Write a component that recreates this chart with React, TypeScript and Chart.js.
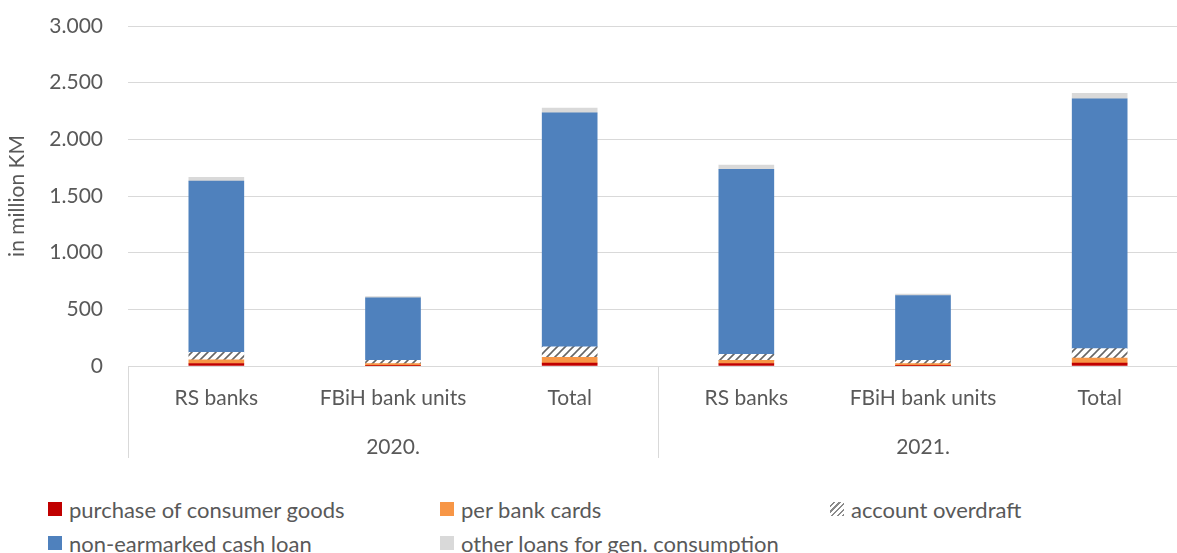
import React, { useEffect, useRef } from "react";
import { Chart, registerables } from "chart.js";

Chart.register(...registerables);

const categories = ["RS banks", "FBiH bank units", "Total", "RS banks", "FBiH bank units", "Total"];
const groups = ["2020.", "2021."];
const purchaseGoods = [22, 3, 25, 22, 3, 25];
const bankCards = [33, 18, 51, 27, 18, 45];
const overdraft = [65, 28, 93, 53, 30, 83];
const cashLoan = [1511, 553, 2064, 1634, 571, 2205];
const otherLoans = [33, 10, 43, 36, 12, 48];
const yTicks = [0, 500, 1000, 1500, 2000, 2500, 3000];

const seriesNames = [
  "purchase of consumer goods",
  "per bank cards",
  "account overdraft",
  "non-earmarked cash loan",
  "other loans for gen. consumption",
];

const FONT = "Lato";
const FS = 21;
const LFS = 22;
const TXT = "#595959";
const GRID = "#d9d9d9";

function makeHatch(): CanvasPattern | string {
  const pc = document.createElement("canvas");
  pc.width = 8;
  pc.height = 8;
  const p = pc.getContext("2d");
  if (!p) return "#999";
  p.fillStyle = "#ffffff";
  p.fillRect(0, 0, 8, 8);
  p.strokeStyle = "#666666";
  p.lineWidth = 1.6;
  p.beginPath();
  p.moveTo(0, 8);
  p.lineTo(8, 0);
  p.moveTo(-2, 2);
  p.lineTo(2, -2);
  p.moveTo(6, 10);
  p.lineTo(10, 6);
  p.stroke();
  const pat = p.createPattern(pc, "repeat");
  return pat || "#999";
}

const groupPlugin = {
  id: "groupPlugin",
  afterDraw(chart: any) {
    const ctx = chart.ctx;
    const x = chart.scales.x;
    const top = chart.chartArea.bottom;
    ctx.save();
    ctx.strokeStyle = GRID;
    ctx.lineWidth = 1;
    [-0.5, 2.5, 5.5].forEach((v) => {
      const px = Math.round(x.getPixelForValue(v)) + 0.5;
      ctx.beginPath();
      ctx.moveTo(px, top);
      ctx.lineTo(px, 458);
      ctx.stroke();
    });
    ctx.fillStyle = TXT;
    ctx.font = `${FS}px ${FONT}`;
    ctx.textAlign = "center";
    ctx.textBaseline = "middle";
    groups.forEach((g, i) => {
      const px = x.getPixelForValue(i * 3 + 1);
      ctx.fillText(g, px, 447);
    });
    ctx.restore();
  },
};

export default function App() {
  const ref = useRef<HTMLCanvasElement>(null);
  useEffect(() => {
    if (!ref.current) return;
    const hatch = makeHatch();
    const colors: any[] = ["#c00000", "#f79646", hatch, "#4f81bd", "#d9d9d9"];
    const values = [purchaseGoods, bankCards, overdraft, cashLoan, otherLoans];
    const chart = new Chart(ref.current, {
      type: "bar",
      data: {
        labels: categories,
        datasets: values.map((d, i) => ({
          label: seriesNames[i],
          data: d,
          backgroundColor: colors[i],
          borderWidth: 0,
          barThickness: 55,
        })),
      },
      options: {
        animation: false,
        responsive: false,
        devicePixelRatio: 1,
        layout: { padding: { top: 26, right: 12, left: 0, bottom: 0 } },
        plugins: { legend: { display: false }, tooltip: { enabled: false } },
        scales: {
          x: {
            stacked: true,
            grid: { display: false, drawTicks: false },
            border: { display: true, color: GRID },
            ticks: { color: TXT, font: { family: FONT, size: FS }, padding: 20, maxRotation: 0, autoSkip: false },
            afterFit: (s: any) => {
              s.height = 104;
            },
          },
          y: {
            stacked: true,
            min: 0,
            max: 3000,
            afterBuildTicks: (s: any) => {
              s.ticks = yTicks.map((v) => ({ value: v }));
            },
            grid: { color: GRID, drawTicks: false },
            border: { display: false },
            ticks: {
              color: TXT,
              font: { family: FONT, size: FS },
              padding: 25,
              callback: (v: any) => Number(v).toLocaleString("de-DE"),
            },
            title: {
              display: true,
              text: "in million KM",
              color: TXT,
              font: { family: FONT, size: FS },
              padding: { top: 5, bottom: 0 },
            },
            afterFit: (s: any) => {
              s.width = 128;
              s.paddingTop = 0;
              s.paddingBottom = 0;
            },
          },
        },
      },
      plugins: [groupPlugin],
    });
    return () => chart.destroy();
  }, []);

  const legendItems = [
    { name: seriesNames[0], x: 48, y: 509, bg: "#c00000" },
    { name: seriesNames[1], x: 440, y: 509, bg: "#f79646" },
    { name: seriesNames[2], x: 830, y: 509, bg: "repeating-linear-gradient(-45deg, #8a8a8a 0 1.5px, #fff 1.5px 4px)" },
    { name: seriesNames[3], x: 48, y: 543, bg: "#4f81bd" },
    { name: seriesNames[4], x: 440, y: 543, bg: "#d9d9d9" },
  ];

  return (
    <div style={{ position: "fixed", left: 0, top: 0, width: 1177, height: 553, overflow: "hidden", background: "#fff" }}>
      <canvas ref={ref} width={1200} height={470} style={{ position: "absolute", left: 0, top: 0, width: 1200, height: 470 }} />
      {legendItems.map((it, i) => (
        <div
          key={i}
          style={{
            position: "absolute",
            left: it.x,
            top: it.y - 14,
            height: 28,
            display: "flex",
            alignItems: "center",
            fontFamily: FONT,
            fontSize: LFS,
            color: TXT,
            whiteSpace: "nowrap",
          }}
        >
          <span style={{ display: "inline-block", width: 14, height: 14, background: it.bg, marginRight: 7 }} />
          <span>{it.name}</span>
        </div>
      ))}
    </div>
  );
}
